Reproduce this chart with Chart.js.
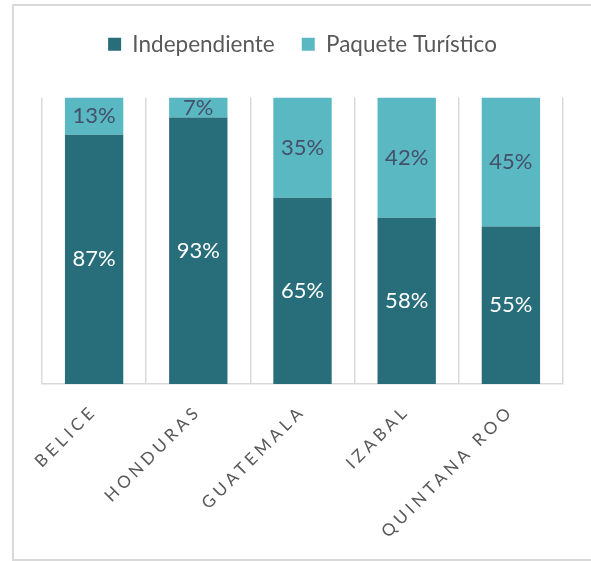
<!DOCTYPE html>
<html><head><meta charset="utf-8">
<script src="https://cdn.jsdelivr.net/npm/chart.js@4.4.1/dist/chart.umd.min.js"></script>
<style>
html,body{margin:0;padding:0;background:#fff;}
#wrap{position:relative;width:591px;height:561px;overflow:hidden;}
#frame{position:absolute;left:12px;top:4px;width:620px;height:557px;box-sizing:border-box;border:2px solid #d9d9d9;}
#c{position:absolute;left:0;top:0;width:591px;height:561px;}
</style></head><body>
<div id="wrap"><div id="frame"></div><canvas id="c" width="591" height="561"></canvas></div>
<script>
const categories = ['BELICE', 'HONDURAS', 'GUATEMALA', 'IZABAL', 'QUINTANA ROO'];
const independiente = [87, 93, 65, 58, 55];
const paqueteTuristico = [13, 7, 35, 42, 45];
const seriesNames = ['Independiente', 'Paquete Turístico'];

class SpacedCategoryScale extends Chart.CategoryScale {
  drawLabels(area) {
    const ctx = this.ctx;
    ctx.save();
    ctx.letterSpacing = '4px';
    super.drawLabels(area);
    ctx.restore();
  }
}
SpacedCategoryScale.id = 'spacedCategory';
SpacedCategoryScale.defaults = Chart.CategoryScale.defaults;
Chart.register(SpacedCategoryScale);

const labelColors = ['#ffffff', '#44506a'];
const barLabels = {
  id: 'barLabels',
  afterInit(chart) {
    const lg = chart.legend;
    if (lg) {
      const fit = lg.fit.bind(lg);
      lg.fit = function () { fit(); this.height += 32; };
    }
  },
  afterDatasetsDraw(chart) {
    const ctx = chart.ctx;
    ctx.save();
    ctx.font = '22px Lato';
    ctx.textAlign = 'center';
    ctx.textBaseline = 'middle';
    chart.data.datasets.forEach((ds, i) => {
      const meta = chart.getDatasetMeta(i);
      meta.data.forEach((bar, j) => {
        ctx.fillStyle = labelColors[i];
        ctx.fillText(ds.data[j] + '%', bar.x, (bar.y + bar.base) / 2);
      });
    });
    ctx.restore();
  }
};

function draw() {
  new Chart(document.getElementById('c'), {
    type: 'bar',
    data: {
      labels: categories,
      datasets: [
        { label: seriesNames[0], data: independiente, backgroundColor: '#276d7a', borderWidth: 0,
          categoryPercentage: 1, barPercentage: 0.56 },
        { label: seriesNames[1], data: paqueteTuristico, backgroundColor: '#5ab8c2', borderWidth: 0,
          categoryPercentage: 1, barPercentage: 0.56 }
      ]
    },
    options: {
      responsive: false,
      animation: false,
      devicePixelRatio: 1,
      layout: { padding: { left: 42, right: 28, top: 6, bottom: 0 } },
      plugins: {
        legend: {
          position: 'top',
          labels: {
            boxWidth: 13, boxHeight: 13, padding: 27,
            color: '#595959',
            font: { family: 'Lato', size: 22.5 }
          }
        },
        tooltip: { enabled: false }
      },
      scales: {
        x: {
          type: 'spacedCategory',
          stacked: true,
          offset: true,
          grid: { offset: true, color: '#d9d9d9', lineWidth: 1.5, drawTicks: false },
          border: { color: '#d9d9d9', width: 1.5 },
          ticks: {
            color: '#595959', font: { family: 'Lato', size: 17 },
            maxRotation: 45, minRotation: 45, autoSkip: false, padding: 17
          },
          afterFit: s => { s.height = 177; }
        },
        y: { display: false, stacked: true, min: 0, max: 100 }
      }
    },
    plugins: [barLabels]
  });
}
document.fonts.load('22px Lato').then(() => document.fonts.load('17px Lato')).then(draw, draw);
</script>
</body></html>
